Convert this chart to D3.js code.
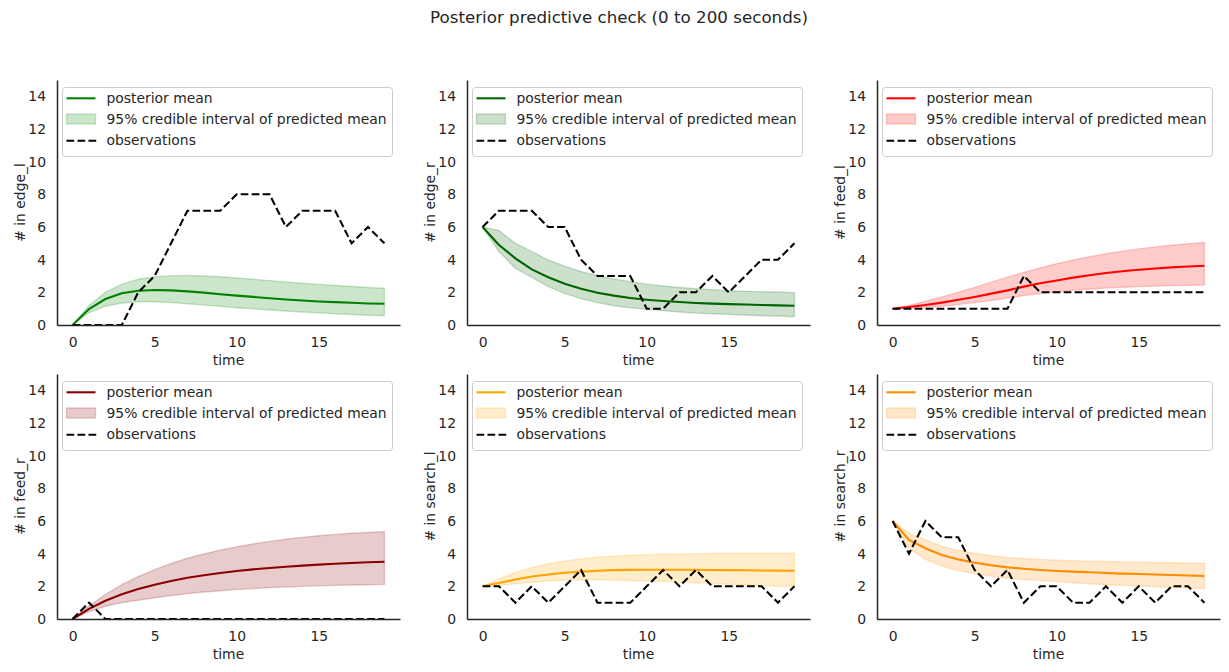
<!DOCTYPE html>
<html><head><meta charset="utf-8">
<script src="https://cdn.jsdelivr.net/npm/d3@7"></script>
<style>
body{margin:0;background:#fff;}
text{font-family:"DejaVu Sans",sans-serif;fill:#262626;}
</style></head>
<body><svg id="c" width="1229" height="672"></svg>
<script>
const times = d3.range(0, 20);
const yTicks = [0,2,4,6,8,10,12,14];
const xTicks = [0,5,10,15];
const panelNames = ["edge_l","edge_r","feed_l","feed_r","search_l","search_r"];
const panelColors = ["#008000","#006400","#ff0000","#8b0000","#ffa500","#ff8c00"];

const obs_edge_l = [0,0,0,0,2,3,5,7,7,7,8,8,8,6,7,7,7,5,6,5];
const mean_edge_l = [0,0.98,1.59,1.94,2.1,2.14,2.12,2.06,1.98,1.88,1.8,1.72,1.64,1.56,1.5,1.44,1.4,1.36,1.32,1.3];
const hi_edge_l = [0,1.2,2.0,2.5,2.8,2.95,3.02,3.03,3.0,2.95,2.88,2.8,2.72,2.64,2.56,2.49,2.42,2.36,2.3,2.25];
const lo_edge_l = [0,0.75,1.15,1.35,1.42,1.42,1.37,1.3,1.22,1.14,1.06,0.99,0.92,0.86,0.8,0.74,0.69,0.64,0.6,0.57];

const obs_edge_r = [6,7,7,7,6,6,4,3,3,3,1,1,2,2,3,2,3,4,4,5];
const mean_edge_r = [6,4.9,4.08,3.4,2.92,2.53,2.22,1.98,1.8,1.65,1.55,1.47,1.41,1.35,1.31,1.28,1.25,1.22,1.2,1.18];
const hi_edge_r = [6,5.78,5.0,4.5,3.98,3.6,3.27,3.02,2.82,2.65,2.5,2.39,2.3,2.22,2.16,2.1,2.06,2.04,2.02,1.98];
const lo_edge_r = [6,4.5,3.47,2.92,2.35,1.94,1.61,1.37,1.18,1.06,0.96,0.88,0.8,0.73,0.69,0.65,0.61,0.57,0.55,0.51];

const obs_feed_l = [1,1,1,1,1,1,1,1,3,2,2,2,2,2,2,2,2,2,2,2];
const mean_feed_l = [1,1.1,1.22,1.37,1.54,1.72,1.92,2.12,2.35,2.55,2.73,2.9,3.05,3.18,3.29,3.38,3.46,3.53,3.58,3.63];
const hi_feed_l = [1,1.2,1.45,1.72,2.0,2.3,2.62,2.93,3.22,3.5,3.75,3.98,4.18,4.36,4.52,4.66,4.78,4.88,4.97,5.05];
const lo_feed_l = [1,1.02,1.08,1.15,1.25,1.37,1.5,1.65,1.8,1.93,2.03,2.12,2.2,2.26,2.31,2.35,2.38,2.41,2.43,2.45];

const obs_feed_r = [0,1,0,0,0,0,0,0,0,0,0,0,0,0,0,0,0,0,0,0];
const mean_feed_r = [0,0.62,1.12,1.52,1.83,2.1,2.33,2.52,2.68,2.82,2.94,3.04,3.12,3.2,3.27,3.33,3.38,3.43,3.47,3.5];
const hi_feed_r = [0,0.8,1.5,2.1,2.6,3.02,3.4,3.72,3.98,4.22,4.42,4.6,4.75,4.88,5.0,5.1,5.18,5.25,5.3,5.35];
const lo_feed_r = [0,0.45,0.78,1.0,1.15,1.3,1.43,1.55,1.65,1.73,1.8,1.86,1.92,1.96,2.0,2.03,2.06,2.08,2.1,2.12];

const obs_search_l = [2,2,1,2,1,2,3,1,1,1,2,3,2,3,2,2,2,2,1,2];
const mean_search_l = [2,2.2,2.42,2.6,2.73,2.83,2.9,2.95,2.99,3.01,3.02,3.02,3.02,3.01,3.0,2.99,2.98,2.97,2.96,2.95];
const hi_search_l = [2,2.45,2.85,3.15,3.38,3.55,3.68,3.78,3.85,3.9,3.94,3.97,3.99,4.0,4.01,4.01,4.02,4.02,4.02,4.02];
const lo_search_l = [2,2.05,2.15,2.25,2.33,2.38,2.4,2.4,2.38,2.36,2.33,2.3,2.26,2.22,2.18,2.13,2.08,2.04,2.0,1.97];

const obs_search_r = [6,4,6,5,5,3,2,3,1,2,2,1,1,2,1,2,1,2,2,1];
const mean_search_r = [6,4.84,4.33,3.92,3.65,3.45,3.29,3.16,3.08,3.0,2.94,2.9,2.86,2.82,2.78,2.76,2.72,2.69,2.66,2.63];
const hi_search_r = [6,5.25,4.85,4.45,4.2,4.02,3.87,3.77,3.7,3.65,3.6,3.57,3.54,3.52,3.5,3.48,3.46,3.44,3.43,3.41];
const lo_search_r = [6,4.33,3.65,3.24,2.96,2.78,2.63,2.51,2.41,2.35,2.29,2.22,2.16,2.1,2.06,2.02,1.98,1.94,1.9,1.86];

const obsSeries = [obs_edge_l,obs_edge_r,obs_feed_l,obs_feed_r,obs_search_l,obs_search_r];
const meanSeries = [mean_edge_l,mean_edge_r,mean_feed_l,mean_feed_r,mean_search_l,mean_search_r];
const hiSeries = [hi_edge_l,hi_edge_r,hi_feed_l,hi_feed_r,hi_search_l,hi_search_r];
const loSeries = [lo_edge_l,lo_edge_r,lo_feed_l,lo_feed_r,lo_search_l,lo_search_r];

const svg = d3.select("#c");
const W = 343, H = 245;
const lefts = [57, 467, 877], tops = [80, 374];
const FS = 13.9;

svg.append("text").attr("x", 619).attr("y", 23).attr("text-anchor","middle")
  .style("font-size","16.7px").text("Posterior predictive check (0 to 200 seconds)");

const x = d3.scaleLinear().domain([-0.95, 19.95]).range([0, W]);
const y = d3.scaleLinear().domain([0, 15]).range([H, 0]);

panelNames.forEach((name, i) => {
  const col = i % 3, row = Math.floor(i / 3);
  const g = svg.append("g").attr("transform", `translate(${lefts[col]},${tops[row]})`);
  const color = panelColors[i];
  const mean = meanSeries[i], hi = hiSeries[i], lo = loSeries[i], ob = obsSeries[i];

  const line = d3.line().x((d, k) => x(times[k])).y(d => y(d));
  const area = d3.area().x((d, k) => x(times[k])).y0((d, k) => y(lo[k])).y1((d, k) => y(hi[k]));

  g.append("path").datum(mean).attr("d", line).attr("fill","none")
    .attr("stroke", color).attr("stroke-width", 2.08);
  g.append("path").datum(hi).attr("d", area).attr("fill", color).attr("fill-opacity", 0.2)
    .attr("stroke", color).attr("stroke-opacity", 0.2).attr("stroke-width", 1.39);
  g.append("path").datum(ob).attr("d", line).attr("fill","none")
    .attr("stroke", "#000").attr("stroke-width", 2.08).attr("stroke-dasharray", "7.7,3.3");

  // axes
  const xa = g.append("g").attr("transform", `translate(0,${H})`)
    .call(d3.axisBottom(x).tickValues(xTicks).tickFormat(d3.format("d")).tickSize(0).tickSizeOuter(0).tickPadding(12));
  const ya = g.append("g")
    .call(d3.axisLeft(y).tickValues(yTicks).tickFormat(d3.format("d")).tickSize(0).tickSizeOuter(0).tickPadding(11));
  [xa, ya].forEach(a => {
    a.select(".domain").attr("stroke", "#262626").attr("stroke-width", 1.5);
    a.selectAll("text").style("font-size", FS + "px").style("font-family", '"DejaVu Sans",sans-serif').attr("fill", "#262626");
  });

  g.append("text").attr("x", W / 2).attr("y", H + 40).attr("text-anchor", "middle")
    .style("font-size", FS + "px").text("time");
  g.append("text").attr("transform", `translate(${-32},${H / 2}) rotate(-90)`).attr("text-anchor", "middle")
    .style("font-size", FS + "px").text("# in " + name);

  // legend
  const lg = g.append("g").attr("transform", "translate(5.5,7.5)");
  lg.append("rect").attr("x", 0).attr("y", 0).attr("width", 330).attr("height", 69).attr("rx", 3)
    .attr("fill", "#fff").attr("fill-opacity", 0.8).attr("stroke", "#cccccc").attr("stroke-width", 1);
  lg.append("line").attr("x1", 4).attr("x2", 33).attr("y1", 10.8).attr("y2", 10.8)
    .attr("stroke", color).attr("stroke-width", 2.08);
  lg.append("rect").attr("x", 4).attr("y", 26.5).attr("width", 29).attr("height", 10)
    .attr("fill", color).attr("fill-opacity", 0.2).attr("stroke", color).attr("stroke-opacity", 0.2).attr("stroke-width", 1.39);
  lg.append("line").attr("x1", 4).attr("x2", 33.7).attr("y1", 53.2).attr("y2", 53.2)
    .attr("stroke", "#000").attr("stroke-width", 2.08).attr("stroke-dasharray", "7.7,3.3");
  const labels = ["posterior mean", "95% credible interval of predicted mean", "observations"];
  const bases = [15.2, 36.8, 57.5];
  labels.forEach((t, k) => {
    lg.append("text").attr("x", 44).attr("y", bases[k]).style("font-size", FS + "px").text(t);
  });
});
</script></body></html>
